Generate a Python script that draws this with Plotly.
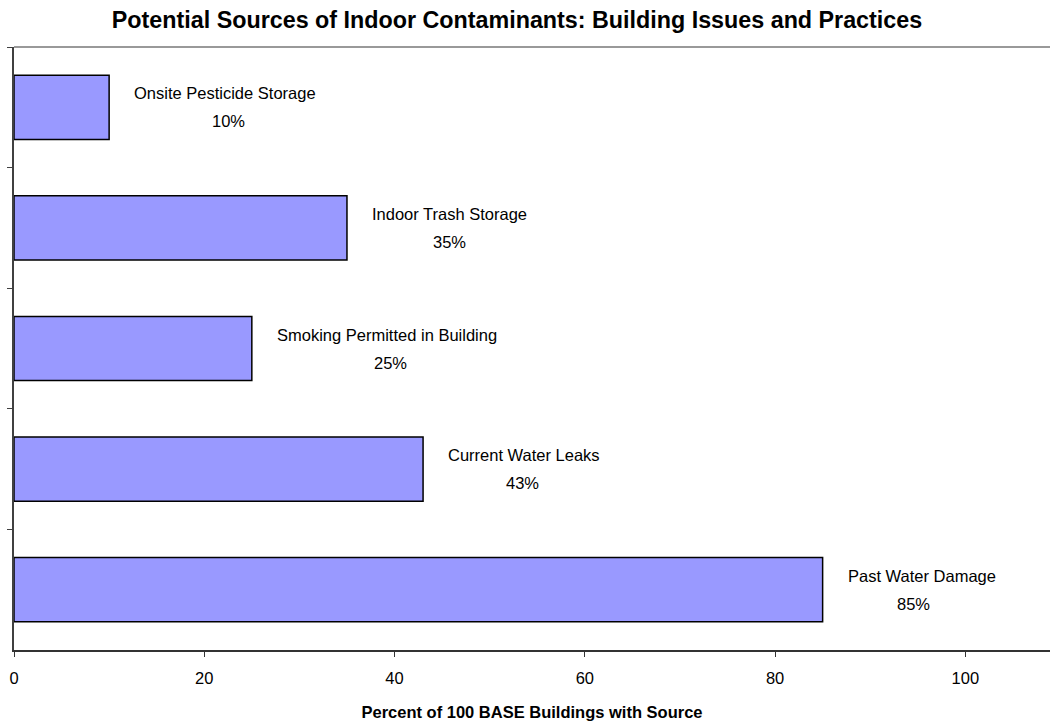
import plotly.graph_objects as go

categories = ["Onsite Pesticide Storage", "Indoor Trash Storage", "Smoking Permitted in Building",
              "Current Water Leaks", "Past Water Damage"]
values = [10, 35, 25, 43, 85]
pct_labels = ["10%", "35%", "25%", "43%", "85%"]
x_ticks = [0, 20, 40, 60, 80, 100]

FONT = "Liberation Sans, Arial, Helvetica, sans-serif"

fig = go.Figure()
fig.add_trace(go.Bar(
    y=categories, x=values, orientation="h",
    marker=dict(color="#9999FF", line=dict(color="#000000", width=1.5)),
    hoverinfo="skip", showlegend=False,
))

for cat, val, pct in zip(categories, values, pct_labels):
    fig.add_annotation(x=val, y=cat, xref="x", yref="y", text=cat, showarrow=False,
                       xanchor="left", yanchor="middle", xshift=23, yshift=14,
                       font=dict(family=FONT, size=16.5, color="#000"))
    fig.add_annotation(x=val, y=cat, xref="x", yref="y", text=pct, showarrow=False,
                       xanchor="center", yanchor="middle", xshift=23 + len(cat) * 4.0, yshift=-14,
                       font=dict(family=FONT, size=16.5, color="#000"))

fig.add_shape(type="line", xref="paper", yref="paper", x0=0, x1=1, y0=1, y1=1,
              line=dict(color="#999999", width=2))

fig.update_layout(
    width=1050, height=727,
    margin=dict(l=14, r=0, t=47, b=77),
    paper_bgcolor="white", plot_bgcolor="white",
    bargap=0.468,
    font=dict(family=FONT, size=16.5, color="#000"),
    title=dict(text="<b>Potential Sources of Indoor Contaminants: Building Issues and Practices</b>",
               x=0.4924, xanchor="center", y=1 - 20 / 727, yanchor="middle", yref="container",
               font=dict(family=FONT, size=23.3, color="#000")),
    xaxis=dict(range=[0, 108.9], tickvals=x_ticks, ticktext=[str(t) for t in x_ticks],
               showgrid=False, zeroline=False, showline=True, linecolor="#333", linewidth=1.5,
               ticks="outside", ticklen=5, tickcolor="#333", tickwidth=1.2,
               ticklabelstandoff=7,
               tickfont=dict(family=FONT, size=16.5, color="#000"),
               title=dict(text="<b>Percent of 100 BASE Buildings with Source</b>", standoff=21,
                          font=dict(family=FONT, size=16.5, color="#000"))),
    yaxis=dict(autorange="reversed", showticklabels=False, showgrid=False, zeroline=False,
               showline=True, linecolor="#404040", linewidth=1.5,
               ticks="outside", ticklen=5, tickcolor="#404040", tickwidth=1.2,
               tickson="boundaries"),
)

fig.write_html("out.html", config={"displayModeBar": False},
               post_script="document.body.style.margin='0';document.body.style.overflow='hidden';")
